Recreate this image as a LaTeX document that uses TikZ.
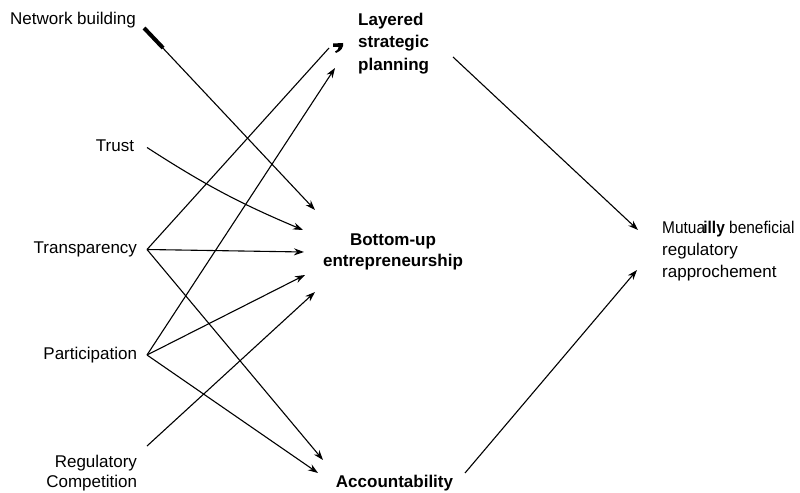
\documentclass[tikz,border=0pt]{standalone}
\usepackage{graphicx}
\usepackage{fontspec}
\setmainfont{Liberation Sans}
\usetikzlibrary{arrows.meta}
\begin{document}
\begin{tikzpicture}[x=1bp,y=-1bp,
  lbl/.style={font=\fontsize{17bp}{22bp}\selectfont, inner sep=0pt, text height=12.5bp, text depth=3.5bp},
  src/.style={lbl, anchor=east, outer xsep=10bp},
  multi/.style={inner sep=0pt},
  arr/.style={line width=1.1bp, -{Stealth[length=10bp,width=7bp]}},
  plain/.style={line width=1.1bp},
]
\useasboundingbox (0,0) rectangle (800,493);

% source labels
\node[lbl, anchor=west] (net) at (10,20.5) {Network building};
\node[src, outer xsep=13bp] (trust) at (147,147.5) {Trust};
\node[src] (trans) at (147,249.5) {Transparency};
\node[src] (part) at (147,355) {Participation};
\node[multi, font=\fontsize{17bp}{20bp}\selectfont, align=right, anchor=north east, outer xsep=10bp] (reg) at (147,454.5) {Regulatory\\Competition};

% target labels
\node[multi, font=\fontsize{17bp}{22.5bp}\selectfont\bfseries, align=left, anchor=north west] (lay) at (358,12.6) {Layered\\strategic\\planning};
\node[multi, font=\fontsize{17bp}{21bp}\selectfont\bfseries, align=center, anchor=north] (bu) at (393,233.6) {Bottom-up\\entrepreneurship};
\node[multi, font=\fontsize{17bp}{21bp}\selectfont\bfseries, anchor=base] (acc) at (394.5,487) {Accountability};
\node[multi, font=\fontsize{17bp}{22bp}\selectfont, align=left, anchor=north west] (mut) at (662,220.6) {\scalebox{0.91}[1]{Mutua\kern-2bp\textbf{illy} beneficial}\\regulatory\\rapprochement};

% connector end points
\coordinate (lay-in1) at (329,48);
\coordinate (lay-in2) at (335,68);
\coordinate (lay-out) at (453,57);
\coordinate (bu-in1) at (315,210);
\coordinate (bu-in2) at (303,230);
\coordinate (bu-in3) at (304,252);
\coordinate (bu-in4) at (305,275);
\coordinate (bu-in5) at (315,292);
\coordinate (acc-in1) at (323,460);
\coordinate (acc-in2) at (318,473);
\coordinate (acc-out) at (465,473);
\coordinate (mut-in1) at (638,230);
\coordinate (mut-in2) at (637,270);

% connectors
\draw[arr] ([shift={(8,7.5)}]net.east) -- (bu-in1);
\draw[line width=4bp] ([shift={(8,7.5)}]net.east) -- ++(19,20);
\draw[arr] (trust.east) to[bend right=5] (bu-in2);
\draw[plain] (trans.east) -- (lay-in1);
\fill (333,43.5) -- (343,43) .. controls (344,47) and (341,51) .. (336,53) -- (335,51.5) .. controls (338,50) and (339,48) .. (338.5,47) -- (333,47) -- cycle;
\draw[arr] (trans.east) -- (bu-in3);
\draw[arr] (trans.east) -- (acc-in1);
\draw[arr] (part.east) -- (lay-in2);
\draw[arr] (part.east) -- (bu-in4);
\draw[arr] (part.east) -- (acc-in2);
\draw[arr] ([yshift=8.5]reg.north east) -- (bu-in5);
\draw[arr] (lay-out) -- (mut-in1);
\draw[arr] (acc-out) -- (mut-in2);
\end{tikzpicture}
\end{document}
